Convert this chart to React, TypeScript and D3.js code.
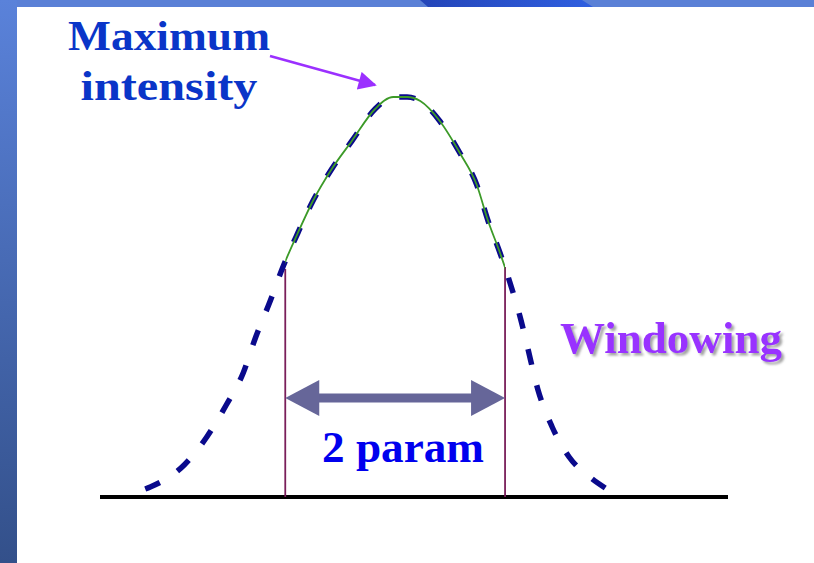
import React from "react";
import * as d3 from "d3";

// Profile of the intensity peak (position units 0..100 along the baseline, intensity 0..1)
const profileX = [7.2, 8.0, 13.4, 17.0, 20.1, 22.8, 24.8, 27.1, 29.0, 31.5, 33.9, 36.9, 40.1, 43.8, 46.7, 48.9, 51.0, 54.1, 57.3, 60.0, 61.8, 63.7, 65.3, 66.9, 68.0, 69.7, 72.0, 74.7, 78.0, 80.7];
const profileIntensity = [0.02, 0.025, 0.08, 0.15, 0.23, 0.31, 0.4, 0.49, 0.57, 0.66, 0.74, 0.82, 0.89, 0.97, 1.0, 1.0, 0.99, 0.94, 0.86, 0.78, 0.69, 0.61, 0.535, 0.45, 0.38, 0.27, 0.175, 0.1, 0.05, 0.02];

// Window bounds and the intensity where the window lines meet the curve
const windowBounds = [29.5, 64.5];
const windowTopIntensity = [0.57, 0.575];
const arrowLevel = 0.2475;

const labelMax = ["Maximum", "intensity"];
const labelWindow = "Windowing";
const labelParam = "2 param";

const W = 814;
const H = 563;

export default function App() {
  const x = d3.scaleLinear().domain([0, 100]).range([100, 728]);
  const y = d3.scaleLinear().domain([0, 1]).range([497, 97]);
  const pts: [number, number][] = profileX.map((v, i) => [v, profileIntensity[i]]);
  const line = d3
    .line<[number, number]>()
    .x((d) => x(d[0]))
    .y((d) => y(d[1]))
    .curve(d3.curveMonotoneX);
  const path = line(pts) || "";
  const xl = x(windowBounds[0]);
  const xr = x(windowBounds[1]);
  const ay = y(arrowLevel);
  const headL = 34;
  const headH = 18;
  const font = "'Liberation Serif', 'Times New Roman', serif";

  return (
    <svg
      width={W}
      height={H}
      style={{ position: "absolute", left: 0, top: 0, display: "block" }}
    >
      <defs>
        <linearGradient id="leftBar" x1="0" y1="0" x2="0" y2="1">
          <stop offset="0" stopColor="#5a82da" />
          <stop offset="1" stopColor="#33508a" />
        </linearGradient>
        <linearGradient id="band" x1="0" y1="0" x2="1" y2="0">
          <stop offset="0" stopColor="#2445b8" />
          <stop offset="1" stopColor="#2f5fe0" />
        </linearGradient>
        <clipPath id="winClip">
          <rect x={xl} y={0} width={xr - xl} height={H} />
        </clipPath>
        <filter id="shadow" x="-5%" y="-20%" width="115%" height="150%">
          <feDropShadow dx="2.5" dy="2.5" stdDeviation="0.8" floodColor="#9a9a9a" floodOpacity="0.9" />
        </filter>
        <marker
          id="purpleHead"
          viewBox="0 0 10 10"
          refX="9"
          refY="5"
          markerWidth="8"
          markerHeight="7"
          markerUnits="strokeWidth"
          orient="auto"
        >
          <path d="M0,0 L10,5 L0,10 Z" fill="#9b30ff" />
        </marker>
      </defs>

      <rect x={0} y={0} width={W} height={H} fill="#ffffff" />
      {/* slide frame */}
      <rect x={0} y={0} width={W} height={7} fill="#5a80d6" />
      <path d="M420,0 L582,0 L593,7 L428,7 Z" fill="url(#band)" />
      <rect x={0} y={0} width={17} height={H} fill="url(#leftBar)" />

      {/* baseline */}
      <line x1={x(0)} x2={x(100)} y1={y(0)} y2={y(0)} stroke="#000" strokeWidth={4} />

      {/* window verticals */}
      {windowBounds.map((b, i) => (
        <line
          key={i}
          x1={x(b)}
          x2={x(b)}
          y1={y(windowTopIntensity[i])}
          y2={y(0)}
          stroke="#7a1f5a"
          strokeWidth={1.8}
        />
      ))}

      {/* dashed profile */}
      <path
        d={path}
        fill="none"
        stroke="#0a0a8c"
        strokeWidth={5.5}
        strokeDasharray="16 21"
      />
      {/* green windowed part */}
      <path
        d={path}
        fill="none"
        stroke="#3c9a28"
        strokeWidth={1.8}
        clipPath="url(#winClip)"
      />

      {/* double arrow */}
      <line x1={xl + headL - 2} x2={xr - headL + 2} y1={ay} y2={ay} stroke="#666699" strokeWidth={9} />
      <path d={`M${xl},${ay} L${xl + headL},${ay - headH} L${xl + headL},${ay + headH} Z`} fill="#666699" />
      <path d={`M${xr},${ay} L${xr - headL},${ay - headH} L${xr - headL},${ay + headH} Z`} fill="#666699" />

      <text
        x={403}
        y={462}
        textAnchor="middle"
        fontFamily={font}
        fontWeight="bold"
        fontSize={45}
        fill="#0000ee"
        textLength={162}
        lengthAdjust="spacingAndGlyphs"
      >
        {labelParam}
      </text>

      {/* Maximum intensity label */}
      <text
        x={169}
        y={50}
        textAnchor="middle"
        fontFamily={font}
        fontWeight="bold"
        fontSize={43}
        fill="#0a35c8"
        textLength={202}
        lengthAdjust="spacingAndGlyphs"
      >
        {labelMax[0]}
      </text>
      <text
        x={169}
        y={100}
        textAnchor="middle"
        fontFamily={font}
        fontWeight="bold"
        fontSize={43}
        fill="#0a35c8"
        textLength={177}
        lengthAdjust="spacingAndGlyphs"
      >
        {labelMax[1]}
      </text>
      <line
        x1={270}
        y1={56}
        x2={375}
        y2={85}
        stroke="#9b30ff"
        strokeWidth={2.6}
        markerEnd="url(#purpleHead)"
      />

      {/* Windowing label with shadow */}
      <text
        x={560}
        y={353}
        fontFamily={font}
        fontWeight="bold"
        fontSize={45}
        fill="#9933ff"
        textLength={222}
        lengthAdjust="spacingAndGlyphs"
        filter="url(#shadow)"
      >
        {labelWindow}
      </text>
    </svg>
  );
}
